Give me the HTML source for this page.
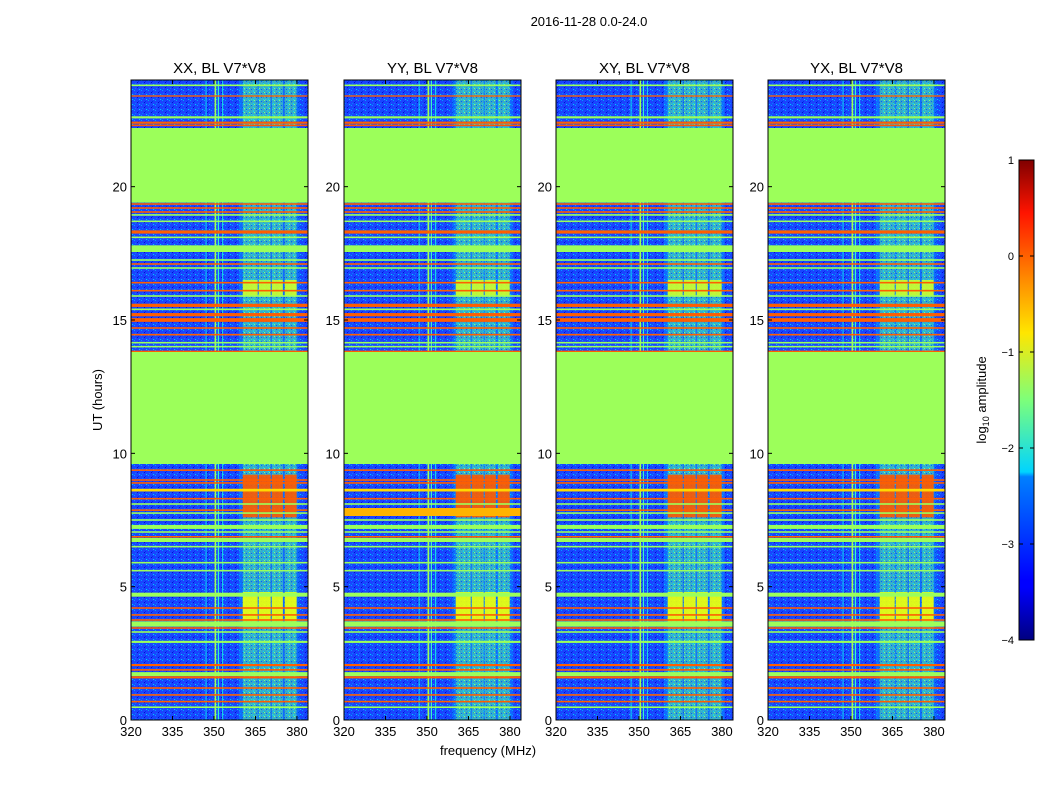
<!DOCTYPE html>
<html><head><meta charset="utf-8"><style>
body{margin:0;background:#fff;font-family:"Liberation Sans",sans-serif}
svg text{font-family:"Liberation Sans",sans-serif}
</style></head><body>
<svg id="fig" width="1050" height="800" xmlns="http://www.w3.org/2000/svg">
<defs>
<pattern id="noise" width="7" height="5" patternUnits="userSpaceOnUse">
<rect width="7" height="5" fill="#1a44ff"/>
<rect x="1" y="0" width="1" height="1" fill="#00a4ff"/>
<rect x="4" y="2" width="1" height="1" fill="#0010d0"/>
<rect x="2" y="3" width="1" height="1" fill="#0080ff"/>
<rect x="6" y="4" width="1" height="1" fill="#00c8ff"/>
<rect x="5" y="1" width="1" height="1" fill="#0030f0"/>
<rect x="0" y="4" width="1" height="1" fill="#0068ff"/>
</pattern>
<pattern id="noise2" width="5" height="4" patternUnits="userSpaceOnUse">
<rect width="5" height="4" fill="none"/>
<rect x="1" y="1" width="1" height="1" fill="#0060ff"/>
<rect x="3" y="3" width="1" height="1" fill="#00e0ff"/>
<rect x="4" y="0" width="1" height="1" fill="#80ff80"/>
</pattern>
<linearGradient id="jet" x1="0" y1="1" x2="0" y2="0">
<stop offset="0" stop-color="#000080"/><stop offset="0.11" stop-color="#0000ff"/>
<stop offset="0.125" stop-color="#0000ff"/><stop offset="0.34" stop-color="#0080ff"/>
<stop offset="0.35" stop-color="#00d4ff"/><stop offset="0.5" stop-color="#7dff7a"/>
<stop offset="0.64" stop-color="#ffe600"/><stop offset="0.75" stop-color="#ff8c00"/>
<stop offset="0.89" stop-color="#ff1400"/><stop offset="1" stop-color="#800000"/>
</linearGradient>
</defs>
<text x="589" y="26" font-size="13" text-anchor="middle">2016-11-28 0.0-24.0</text>
<text x="488" y="755" font-size="13" text-anchor="middle">frequency (MHz)</text>
<text transform="translate(102,400) rotate(-90)" font-size="13" text-anchor="middle">UT (hours)</text>
<g id="panels"></g>
<g id="cbar">
<rect x="1019" y="160" width="15" height="480" fill="url(#jet)" stroke="#000" stroke-width="1"/>
</g>
<text transform="translate(986,400) rotate(-90)" font-size="13" text-anchor="middle">log<tspan font-size="9" dy="3">10</tspan><tspan dy="-3"> amplitude</tspan></text>
</svg>
<script>
const titles=["XX, BL V7*V8","YY, BL V7*V8","XY, BL V7*V8","YX, BL V7*V8"];
const panelX=[131,344,556,768];
const xTicks=[320,335,350,365,380];
const yTicks=[0,5,10,15,20];
const cbTicks=[-4,-3,-2,-1,0,1];
const flatSegments=[[9.6,13.8,-1.3],[19.4,22.2,-1.3],[17.55,17.8,-1.3]];
const hLines=[[23.8,-1.3,0.06],[23.4,0.05,0.05],[22.6,-1.3,0.08],[22.4,0.05,0.08],[22.3,0.1,0.06],[19.35,0.05,0.06],[19.2,0.05,0.06],[19.05,0.05,0.06],[18.94,-1.3,0.06],[18.7,-1.3,0.06],[18.3,0.05,0.12],[18.1,-1.3,0.06],[17.25,-1.3,0.06],[17.1,0.05,0.06],[16.95,-1.3,0.06],[16.4,0.05,0.06],[16.1,0.05,0.06],[15.9,-1.3,0.06],[15.55,0.05,0.12],[15.4,-1.3,0.06],[15.2,0.05,0.12],[15.0,0.05,0.14],[14.7,0.05,0.06],[14.45,0.05,0.06],[14.15,-1.3,0.06],[14.0,-1.3,0.06],[13.82,0.05,0.06],[9.37,0.05,0.06],[9.0,0.05,0.06],[8.89,0.05,0.06],[8.62,-0.6,0.1],[8.3,0.05,0.06],[8.1,-1.3,0.06],[7.87,0.05,0.06],[7.76,-1.3,0.06],[7.5,-1.3,0.06],[7.24,-1.3,0.15],[7.05,-1.3,0.06],[6.87,0.05,0.06],[6.75,-1.3,0.15],[6.5,-1.3,0.06],[5.9,-1.3,0.06],[5.6,-1.3,0.06],[4.7,-1.3,0.15],[4.2,0.05,0.06],[3.94,0.05,0.06],[3.75,0.05,0.06],[3.6,-1.3,0.2],[3.45,0.05,0.06],[3.3,-1.3,0.06],[2.93,-1.3,0.08],[2.06,0.05,0.08],[1.88,0.05,0.06],[1.72,-1.3,0.15],[1.6,0.05,0.08],[1.2,0.05,0.06],[0.94,0.05,0.06],[0.69,0.05,0.06],[0.48,-1.3,0.06]];
const skyBand=[359,381,-2.5];
const columns=[[360.4,365.8],[366.2,370.5],[370.9,374.9],[375.6,379.9]];
const columnVal=-1.6;
const hotRows=[[7.6,9.2,0.1],[3.7,4.8,-0.8],[15.9,16.5,-1.0]];
const vLines=[[350.2,-1.3,0.6],[351.4,-1.9,0.4],[353,-2.1,0.3],[347,-2.2,0.3]];
const panelExtra=[[],[[7.65,7.95,-0.4]],[],[]];

function interp(pts,t){for(let i=1;i<pts.length;i++){if(t<=pts[i][0]){const a=pts[i-1],b=pts[i];return a[1]+(b[1]-a[1])*(t-a[0])/(b[0]-a[0]);}}return pts[pts.length-1][1];}
const R=[[0,0],[0.35,0],[0.66,1],[0.89,1],[1,0.5]],G=[[0,0],[0.125,0],[0.375,1],[0.64,1],[0.91,0],[1,0]],B=[[0,0.5],[0.11,1],[0.34,1],[0.65,0],[1,0]];
function jet(v){const t=Math.max(0,Math.min(1,(v+4)/5));
 return `rgb(${Math.round(255*interp(R,t))},${Math.round(255*interp(G,t))},${Math.round(255*interp(B,t))})`;}
const NS="http://www.w3.org/2000/svg";
function el(tag,attrs,parent){const e=document.createElementNS(NS,tag);for(const k in attrs)e.setAttribute(k,attrs[k]);parent.appendChild(e);return e;}
const root=document.getElementById('panels');
const W=177,Y0=80,H=640;
panelX.forEach((x0,pi)=>{
 const xs=f=>x0+(f-320)*W/64, ys=h=>Y0+H-h*H/24;
 const g=el('g',{},root);
 
 
 const cp=el('clipPath',{id:'cp'+pi},g);el('rect',{x:x0,y:Y0,width:W,height:H},cp);
 const hm=el('g',{'clip-path':`url(#cp${pi})`},g);
 
 
 el('rect',{x:x0,y:Y0,width:W,height:H,fill:'url(#noise)'},hm);
 el('rect',{x:xs(skyBand[0]),y:Y0,width:xs(skyBand[1])-xs(skyBand[0]),height:H,fill:jet(skyBand[2]),opacity:0.35},hm);
 columns.forEach(c=>{const r=el('rect',{x:xs(c[0]),y:Y0,width:xs(c[1])-xs(c[0]),height:H,fill:jet(columnVal),opacity:0.45},hm);
  
  el('rect',{x:xs(c[0]),y:Y0,width:xs(c[1])-xs(c[0]),height:H,fill:'url(#noise2)'},hm);
  hotRows.forEach(h=>{const b=el('rect',{x:xs(c[0]),y:ys(h[1]),width:xs(c[1])-xs(c[0]),height:ys(h[0])-ys(h[1]),fill:jet(h[2]),opacity:0.9},hm);
   });});
 vLines.forEach(v=>{const r=el('rect',{x:xs(v[0]),y:Y0,width:v[2]*W/64,height:H,fill:jet(v[1])},hm);
  });
 hLines.forEach(l=>{const r=el('rect',{x:x0,y:ys(l[0]+l[2]/2),width:W,height:Math.max(1.2,l[2]*H/24),fill:jet(l[1])},hm);
  });
 panelExtra[pi].concat(flatSegments).forEach(s=>{const r=el('rect',{x:x0,y:ys(s[1]),width:W,height:ys(s[0])-ys(s[1]),fill:jet(s[2])},hm);
  });
 el('rect',{x:x0,y:Y0,width:W,height:H,fill:'none',stroke:'#000','stroke-width':1},g);
 const t=el('text',{x:x0+W/2,y:Y0-7,'font-size':15,'text-anchor':'middle'},g);t.textContent=titles[pi];
 
 xTicks.forEach(v=>{const X=xs(v);el('line',{x1:X,x2:X,y1:Y0+H,y2:Y0+H-4,stroke:'#000'},g);el('line',{x1:X,x2:X,y1:Y0,y2:Y0+4,stroke:'#000'},g);
  const tx=el('text',{x:X,y:Y0+H+16,'font-size':13,'text-anchor':'middle'},g);tx.textContent=v;
  });
 yTicks.forEach(v=>{const Y=ys(v);el('line',{x1:x0,x2:x0+4,y1:Y,y2:Y,stroke:'#000'},g);el('line',{x1:x0+W,x2:x0+W-4,y1:Y,y2:Y,stroke:'#000'},g);
  const ty=el('text',{x:x0-4,y:Y+5,'font-size':13,'text-anchor':'end'},g);ty.textContent=v;
  });
});
const cb=document.getElementById('cbar');
cbTicks.forEach(v=>{const Y=640-(v+4)*480/5;
 el('line',{x1:1019,x2:1023,y1:Y,y2:Y,stroke:'#000'},cb);el('line',{x1:1034,x2:1030,y1:Y,y2:Y,stroke:'#000'},cb);
 const t=el('text',{x:1014,y:Y+4,'font-size':11,'text-anchor':'end'},cb);t.textContent=(v<0?'\u2212'+(-v):v);
 });
</script>
</body></html>
